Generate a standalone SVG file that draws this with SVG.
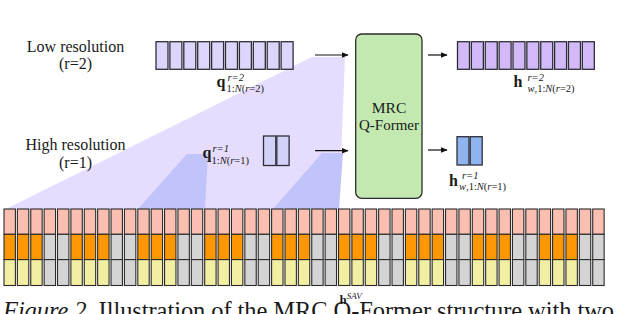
<svg xmlns="http://www.w3.org/2000/svg" width="640" height="314" viewBox="0 0 640 314">
<defs>
<style>
.t{font-family:"Liberation Serif","Times New Roman",serif;fill:#1a1a1a}
.cell{stroke:#2b2b2b;stroke-width:1.1}
.pk{fill:#fbbfb1}
.or{fill:#fd9703}
.yl{fill:#f2eea2}
.gr{fill:#d4d4d4}
.box{stroke:#2e2e3a;stroke-width:1.3}
.conn{stroke:#111;stroke-width:1.2;fill:none;marker-end:url(#ah)}
</style>
<marker id="ah" viewBox="0 0 10 10" refX="9" refY="5" markerWidth="7" markerHeight="7" markerUnits="userSpaceOnUse" orient="auto">
<path d="M0,1 L10,5 L0,9 Z" fill="#111"/>
</marker>
</defs>
<rect width="640" height="314" fill="#fff"/>

<g id="projections">
<polygon points="6,209 312,57 345,57 339,209" fill="#e6dcfd"/>
<polygon points="138,209 187,154 208,154 205,209" fill="#c0c4fb"/>
<polygon points="273,209 322,153 343,153 339,209" fill="#c0c4fb"/>
</g>

<g id="grid">
<g id="row-pink">
<rect class="cell pk" x="4" y="209" width="11.4" height="25.3"/>
<rect class="cell pk" x="17.38" y="209" width="11.4" height="25.3"/>
<rect class="cell pk" x="30.76" y="209" width="11.4" height="25.3"/>
<rect class="cell pk" x="44.14" y="209" width="11.4" height="25.3"/>
<rect class="cell pk" x="57.52" y="209" width="11.4" height="25.3"/>
<rect class="cell pk" x="70.9" y="209" width="11.4" height="25.3"/>
<rect class="cell pk" x="84.28" y="209" width="11.4" height="25.3"/>
<rect class="cell pk" x="97.66" y="209" width="11.4" height="25.3"/>
<rect class="cell pk" x="111.04" y="209" width="11.4" height="25.3"/>
<rect class="cell pk" x="124.42" y="209" width="11.4" height="25.3"/>
<rect class="cell pk" x="137.8" y="209" width="11.4" height="25.3"/>
<rect class="cell pk" x="151.18" y="209" width="11.4" height="25.3"/>
<rect class="cell pk" x="164.56" y="209" width="11.4" height="25.3"/>
<rect class="cell pk" x="177.94" y="209" width="11.4" height="25.3"/>
<rect class="cell pk" x="191.32" y="209" width="11.4" height="25.3"/>
<rect class="cell pk" x="204.7" y="209" width="11.4" height="25.3"/>
<rect class="cell pk" x="218.08" y="209" width="11.4" height="25.3"/>
<rect class="cell pk" x="231.46" y="209" width="11.4" height="25.3"/>
<rect class="cell pk" x="244.84" y="209" width="11.4" height="25.3"/>
<rect class="cell pk" x="258.22" y="209" width="11.4" height="25.3"/>
<rect class="cell pk" x="271.6" y="209" width="11.4" height="25.3"/>
<rect class="cell pk" x="284.98" y="209" width="11.4" height="25.3"/>
<rect class="cell pk" x="298.36" y="209" width="11.4" height="25.3"/>
<rect class="cell pk" x="311.74" y="209" width="11.4" height="25.3"/>
<rect class="cell pk" x="325.12" y="209" width="11.4" height="25.3"/>
<rect class="cell pk" x="338.5" y="209" width="11.4" height="25.3"/>
<rect class="cell pk" x="351.88" y="209" width="11.4" height="25.3"/>
<rect class="cell pk" x="365.26" y="209" width="11.4" height="25.3"/>
<rect class="cell pk" x="378.64" y="209" width="11.4" height="25.3"/>
<rect class="cell pk" x="392.02" y="209" width="11.4" height="25.3"/>
<rect class="cell pk" x="405.4" y="209" width="11.4" height="25.3"/>
<rect class="cell pk" x="418.78" y="209" width="11.4" height="25.3"/>
<rect class="cell pk" x="432.16" y="209" width="11.4" height="25.3"/>
<rect class="cell pk" x="445.54" y="209" width="11.4" height="25.3"/>
<rect class="cell pk" x="458.92" y="209" width="11.4" height="25.3"/>
<rect class="cell pk" x="472.3" y="209" width="11.4" height="25.3"/>
<rect class="cell pk" x="485.68" y="209" width="11.4" height="25.3"/>
<rect class="cell pk" x="499.06" y="209" width="11.4" height="25.3"/>
<rect class="cell pk" x="512.44" y="209" width="11.4" height="25.3"/>
<rect class="cell pk" x="525.82" y="209" width="11.4" height="25.3"/>
<rect class="cell pk" x="539.2" y="209" width="11.4" height="25.3"/>
<rect class="cell pk" x="552.58" y="209" width="11.4" height="25.3"/>
<rect class="cell pk" x="565.96" y="209" width="11.4" height="25.3"/>
<rect class="cell pk" x="579.34" y="209" width="11.4" height="25.3"/>
<rect class="cell pk" x="592.72" y="209" width="11.4" height="25.3"/>
</g>
<g id="row-mid">
<rect class="cell or" x="4" y="234.3" width="11.4" height="25.3"/>
<rect class="cell or" x="17.38" y="234.3" width="11.4" height="25.3"/>
<rect class="cell or" x="30.76" y="234.3" width="11.4" height="25.3"/>
<rect class="cell gr" x="44.14" y="234.3" width="11.4" height="25.3"/>
<rect class="cell gr" x="57.52" y="234.3" width="11.4" height="25.3"/>
<rect class="cell or" x="70.9" y="234.3" width="11.4" height="25.3"/>
<rect class="cell or" x="84.28" y="234.3" width="11.4" height="25.3"/>
<rect class="cell or" x="97.66" y="234.3" width="11.4" height="25.3"/>
<rect class="cell gr" x="111.04" y="234.3" width="11.4" height="25.3"/>
<rect class="cell gr" x="124.42" y="234.3" width="11.4" height="25.3"/>
<rect class="cell or" x="137.8" y="234.3" width="11.4" height="25.3"/>
<rect class="cell or" x="151.18" y="234.3" width="11.4" height="25.3"/>
<rect class="cell or" x="164.56" y="234.3" width="11.4" height="25.3"/>
<rect class="cell gr" x="177.94" y="234.3" width="11.4" height="25.3"/>
<rect class="cell gr" x="191.32" y="234.3" width="11.4" height="25.3"/>
<rect class="cell or" x="204.7" y="234.3" width="11.4" height="25.3"/>
<rect class="cell or" x="218.08" y="234.3" width="11.4" height="25.3"/>
<rect class="cell or" x="231.46" y="234.3" width="11.4" height="25.3"/>
<rect class="cell gr" x="244.84" y="234.3" width="11.4" height="25.3"/>
<rect class="cell gr" x="258.22" y="234.3" width="11.4" height="25.3"/>
<rect class="cell or" x="271.6" y="234.3" width="11.4" height="25.3"/>
<rect class="cell or" x="284.98" y="234.3" width="11.4" height="25.3"/>
<rect class="cell or" x="298.36" y="234.3" width="11.4" height="25.3"/>
<rect class="cell gr" x="311.74" y="234.3" width="11.4" height="25.3"/>
<rect class="cell gr" x="325.12" y="234.3" width="11.4" height="25.3"/>
<rect class="cell or" x="338.5" y="234.3" width="11.4" height="25.3"/>
<rect class="cell or" x="351.88" y="234.3" width="11.4" height="25.3"/>
<rect class="cell or" x="365.26" y="234.3" width="11.4" height="25.3"/>
<rect class="cell gr" x="378.64" y="234.3" width="11.4" height="25.3"/>
<rect class="cell gr" x="392.02" y="234.3" width="11.4" height="25.3"/>
<rect class="cell or" x="405.4" y="234.3" width="11.4" height="25.3"/>
<rect class="cell or" x="418.78" y="234.3" width="11.4" height="25.3"/>
<rect class="cell or" x="432.16" y="234.3" width="11.4" height="25.3"/>
<rect class="cell gr" x="445.54" y="234.3" width="11.4" height="25.3"/>
<rect class="cell gr" x="458.92" y="234.3" width="11.4" height="25.3"/>
<rect class="cell or" x="472.3" y="234.3" width="11.4" height="25.3"/>
<rect class="cell or" x="485.68" y="234.3" width="11.4" height="25.3"/>
<rect class="cell or" x="499.06" y="234.3" width="11.4" height="25.3"/>
<rect class="cell gr" x="512.44" y="234.3" width="11.4" height="25.3"/>
<rect class="cell gr" x="525.82" y="234.3" width="11.4" height="25.3"/>
<rect class="cell or" x="539.2" y="234.3" width="11.4" height="25.3"/>
<rect class="cell or" x="552.58" y="234.3" width="11.4" height="25.3"/>
<rect class="cell or" x="565.96" y="234.3" width="11.4" height="25.3"/>
<rect class="cell gr" x="579.34" y="234.3" width="11.4" height="25.3"/>
<rect class="cell gr" x="592.72" y="234.3" width="11.4" height="25.3"/>
</g>
<g id="row-low">
<rect class="cell yl" x="4" y="259.6" width="11.4" height="25.9"/>
<rect class="cell yl" x="17.38" y="259.6" width="11.4" height="25.9"/>
<rect class="cell yl" x="30.76" y="259.6" width="11.4" height="25.9"/>
<rect class="cell gr" x="44.14" y="259.6" width="11.4" height="25.9"/>
<rect class="cell gr" x="57.52" y="259.6" width="11.4" height="25.9"/>
<rect class="cell yl" x="70.9" y="259.6" width="11.4" height="25.9"/>
<rect class="cell yl" x="84.28" y="259.6" width="11.4" height="25.9"/>
<rect class="cell yl" x="97.66" y="259.6" width="11.4" height="25.9"/>
<rect class="cell gr" x="111.04" y="259.6" width="11.4" height="25.9"/>
<rect class="cell gr" x="124.42" y="259.6" width="11.4" height="25.9"/>
<rect class="cell yl" x="137.8" y="259.6" width="11.4" height="25.9"/>
<rect class="cell yl" x="151.18" y="259.6" width="11.4" height="25.9"/>
<rect class="cell yl" x="164.56" y="259.6" width="11.4" height="25.9"/>
<rect class="cell gr" x="177.94" y="259.6" width="11.4" height="25.9"/>
<rect class="cell gr" x="191.32" y="259.6" width="11.4" height="25.9"/>
<rect class="cell yl" x="204.7" y="259.6" width="11.4" height="25.9"/>
<rect class="cell yl" x="218.08" y="259.6" width="11.4" height="25.9"/>
<rect class="cell yl" x="231.46" y="259.6" width="11.4" height="25.9"/>
<rect class="cell gr" x="244.84" y="259.6" width="11.4" height="25.9"/>
<rect class="cell gr" x="258.22" y="259.6" width="11.4" height="25.9"/>
<rect class="cell yl" x="271.6" y="259.6" width="11.4" height="25.9"/>
<rect class="cell yl" x="284.98" y="259.6" width="11.4" height="25.9"/>
<rect class="cell yl" x="298.36" y="259.6" width="11.4" height="25.9"/>
<rect class="cell gr" x="311.74" y="259.6" width="11.4" height="25.9"/>
<rect class="cell gr" x="325.12" y="259.6" width="11.4" height="25.9"/>
<rect class="cell yl" x="338.5" y="259.6" width="11.4" height="25.9"/>
<rect class="cell yl" x="351.88" y="259.6" width="11.4" height="25.9"/>
<rect class="cell yl" x="365.26" y="259.6" width="11.4" height="25.9"/>
<rect class="cell gr" x="378.64" y="259.6" width="11.4" height="25.9"/>
<rect class="cell gr" x="392.02" y="259.6" width="11.4" height="25.9"/>
<rect class="cell yl" x="405.4" y="259.6" width="11.4" height="25.9"/>
<rect class="cell yl" x="418.78" y="259.6" width="11.4" height="25.9"/>
<rect class="cell yl" x="432.16" y="259.6" width="11.4" height="25.9"/>
<rect class="cell gr" x="445.54" y="259.6" width="11.4" height="25.9"/>
<rect class="cell gr" x="458.92" y="259.6" width="11.4" height="25.9"/>
<rect class="cell yl" x="472.3" y="259.6" width="11.4" height="25.9"/>
<rect class="cell yl" x="485.68" y="259.6" width="11.4" height="25.9"/>
<rect class="cell yl" x="499.06" y="259.6" width="11.4" height="25.9"/>
<rect class="cell gr" x="512.44" y="259.6" width="11.4" height="25.9"/>
<rect class="cell gr" x="525.82" y="259.6" width="11.4" height="25.9"/>
<rect class="cell yl" x="539.2" y="259.6" width="11.4" height="25.9"/>
<rect class="cell yl" x="552.58" y="259.6" width="11.4" height="25.9"/>
<rect class="cell yl" x="565.96" y="259.6" width="11.4" height="25.9"/>
<rect class="cell gr" x="579.34" y="259.6" width="11.4" height="25.9"/>
<rect class="cell gr" x="592.72" y="259.6" width="11.4" height="25.9"/>
</g>
</g>

<g id="label-low">
<text class="t" x="75.5" y="51.5" font-size="16" text-anchor="middle">Low resolution</text>
<text class="t" x="75.5" y="69" font-size="16" text-anchor="middle">(r=2)</text>
</g>
<g id="label-high">
<text class="t" x="75.5" y="150" font-size="16" text-anchor="middle">High resolution</text>
<text class="t" x="75.5" y="168" font-size="16" text-anchor="middle">(r=1)</text>
</g>

<g id="q-low">
<g fill="#ddd5fb" class="box">
<rect x="156" y="41.7" width="12" height="27.6"/>
<rect x="169.9" y="41.7" width="12" height="27.6"/>
<rect x="183.8" y="41.7" width="12" height="27.6"/>
<rect x="197.7" y="41.7" width="12" height="27.6"/>
<rect x="211.6" y="41.7" width="12" height="27.6"/>
<rect x="225.5" y="41.7" width="12" height="27.6"/>
<rect x="239.4" y="41.7" width="12" height="27.6"/>
<rect x="253.3" y="41.7" width="12" height="27.6"/>
<rect x="267.2" y="41.7" width="12" height="27.6"/>
<rect x="281.1" y="41.7" width="12" height="27.6"/>
</g>
<text class="t" x="216.5" y="87" font-size="16" font-weight="bold">q</text>
<text class="t" x="227.5" y="80.5" font-size="10.5" font-style="italic">r=2</text>
<text class="t" x="226.5" y="91.5" font-size="10.5">1:<tspan font-style="italic">N</tspan>(<tspan font-style="italic">r</tspan>=2)</text>
</g>

<g id="q-high">
<g fill="#d2d1f7" class="box">
<rect x="263.5" y="136" width="12.3" height="29.5"/>
<rect x="276.8" y="136" width="12.3" height="29.5"/>
</g>
<text class="t" x="202.5" y="158" font-size="16" font-weight="bold">q</text>
<text class="t" x="212.5" y="151.5" font-size="10.5" font-style="italic">r=1</text>
<text class="t" x="211.5" y="163.5" font-size="10.5">1:<tspan font-style="italic">N</tspan>(<tspan font-style="italic">r</tspan>=1)</text>
</g>

<g id="qformer">
<rect x="355.7" y="34" width="66.3" height="164.3" rx="6" ry="6" fill="#c3e9b1" stroke="#2b2b2b" stroke-width="1.3"/>
<text class="t" x="389" y="112.5" font-size="15.5" text-anchor="middle">MRC</text>
<text class="t" x="389" y="129.5" font-size="15" text-anchor="middle">Q-Former</text>
</g>

<g id="h-low">
<g fill="#d4b9f8" class="box">
<rect x="457.5" y="41.7" width="12" height="27.6"/>
<rect x="471.37" y="41.7" width="12" height="27.6"/>
<rect x="485.24" y="41.7" width="12" height="27.6"/>
<rect x="499.11" y="41.7" width="12" height="27.6"/>
<rect x="512.98" y="41.7" width="12" height="27.6"/>
<rect x="526.85" y="41.7" width="12" height="27.6"/>
<rect x="540.72" y="41.7" width="12" height="27.6"/>
<rect x="554.59" y="41.7" width="12" height="27.6"/>
<rect x="568.46" y="41.7" width="12" height="27.6"/>
<rect x="582.33" y="41.7" width="12" height="27.6"/>
</g>
<text class="t" x="513.5" y="87" font-size="16" font-weight="bold">h</text>
<text class="t" x="527.5" y="81" font-size="10.5" font-style="italic">r=2</text>
<text class="t" x="527.5" y="91.5" font-size="10.5"><tspan font-style="italic">w</tspan>,1:<tspan font-style="italic">N</tspan>(<tspan font-style="italic">r</tspan>=2)</text>
</g>

<g id="h-high">
<g fill="#8fb4ef" class="box">
<rect x="457" y="136.7" width="12" height="28.3"/>
<rect x="470.2" y="136.7" width="12" height="28.3"/>
</g>
<text class="t" x="449" y="185.5" font-size="16" font-weight="bold">h</text>
<text class="t" x="462" y="179" font-size="10.5" font-style="italic">r=1</text>
<text class="t" x="459" y="189.5" font-size="10.5"><tspan font-style="italic">w</tspan>,1:<tspan font-style="italic">N</tspan>(<tspan font-style="italic">r</tspan>=1)</text>
</g>

<g id="connectors">
<line class="conn" x1="315" y1="55" x2="348" y2="55"/>
<line class="conn" x1="315" y1="150.7" x2="348" y2="150.7"/>
<line class="conn" x1="428" y1="55" x2="447" y2="55"/>
<line class="conn" x1="428" y1="150" x2="447" y2="150"/>
</g>

<g id="caption">
<text class="t" x="339.5" y="303.5" font-size="13" font-weight="bold">h<tspan font-size="9" font-weight="normal" font-style="italic" dy="-5">SAV</tspan></text>
<text class="t" x="3" y="319" font-size="24.5" textLength="611" lengthAdjust="spacing"><tspan font-style="italic">Figure 2.</tspan> Illustration of the MRC Q-Former structure with two</text>
</g>
</svg>
